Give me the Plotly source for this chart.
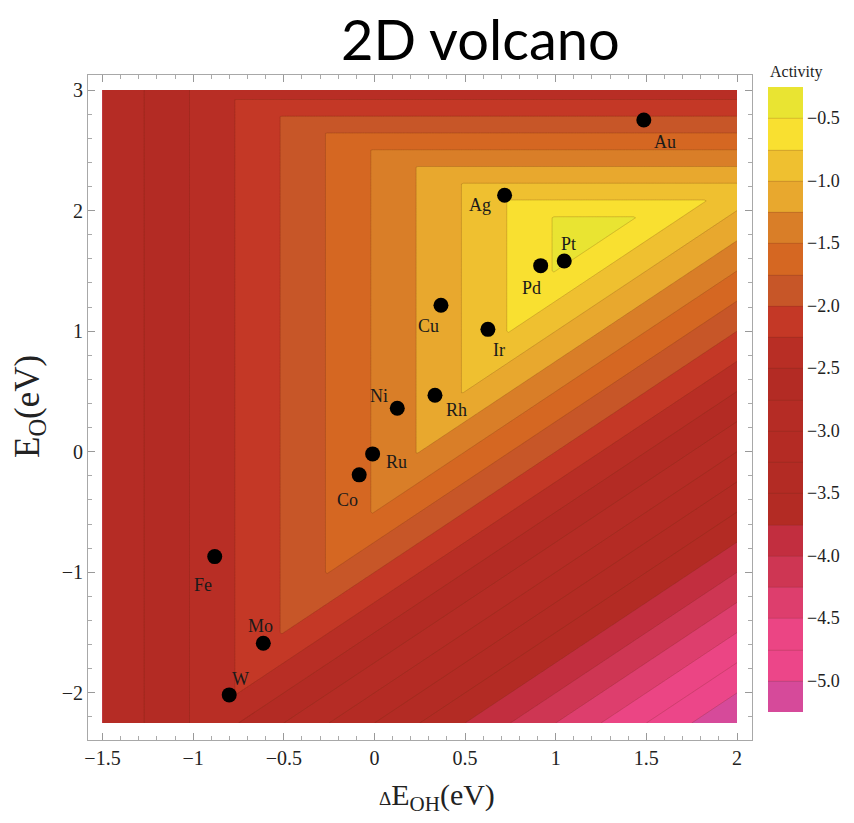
import numpy as np
import plotly.graph_objects as go

# Limiting linear terms of the activity model: A = min_i (a_i * dE_OH + b_i * E_O + c_i)
TERM_SLOPE_OH = [1.0, 0.0, -1.0]
TERM_SLOPE_O = [0.0, -1.8, 1.0]
TERM_OFFSET = [-1.48, 3.008, -1.0]

# Descriptor window
OH_RANGE = [-1.5, 2.0]
O_RANGE = [-2.25, 3.0]

# Contour levels and band colours (lowest band first)
LEVEL_START, LEVEL_END, LEVEL_STEP = -5.0, -0.5, 0.25
BAND_COLORS = [
    "#D64A9A", "#EC4689", "#EB4584", "#DD3E6D", "#CE3653",
    "#C22E3F", "#B32B24", "#B32B24", "#B42B24", "#B52C25",
    "#B32B24", "#B82E25", "#C43826", "#C75628", "#D56722",
    "#D97E28", "#E8A82E", "#EFC030", "#F9E030", "#E9E432",
]

# Metals: adsorption energies (eV)
METALS = ["Au", "Ag", "Pt", "Pd", "Cu", "Ir", "Ni", "Rh", "Ru", "Co", "Fe", "Mo", "W"]
E_OH = [1.486, 0.718, 1.047, 0.917, 0.367, 0.626, 0.126, 0.334, -0.010, -0.084, -0.881, -0.613, -0.801]
E_O = [2.751, 2.127, 1.582, 1.543, 1.215, 1.015, 0.361, 0.468, -0.018, -0.192, -0.870, -1.588, -2.017]

# Pixel offsets of each metal's label from its marker (dx right, dy down)
LABEL_OFFSETS = {
    "Au": (21, 22), "Ag": (-25, 10), "Pt": (4, -17), "Pd": (-9, 22),
    "Cu": (-12, 21), "Ir": (11, 21), "Ni": (-18, -12), "Rh": (22, 15),
    "Ru": (24, 8), "Co": (-12, 25), "Fe": (-12, 28), "Mo": (-3, -17),
    "W": (11, -16),
}

X_TICKS = [-1.5, -1.0, -0.5, 0.0, 0.5, 1.0, 1.5, 2.0]
X_TICKTEXT = ["\u22121.5", "\u22121", "\u22120.5", "0", "0.5", "1", "1.5", "2"]
Y_TICKS = [-2, -1, 0, 1, 2, 3]
Y_TICKTEXT = ["\u22122", "\u22121", "0", "1", "2", "3"]
CB_TICKS = [-5.0, -4.5, -4.0, -3.5, -3.0, -2.5, -2.0, -1.5, -1.0, -0.5]
CB_TICKTEXT = ["\u2212%.1f" % abs(v) for v in CB_TICKS]

SERIF = "Liberation Serif, Times New Roman, serif"

# Activity surface on a fine grid
xs = np.linspace(OH_RANGE[0], OH_RANGE[1], 351)
ys = np.linspace(O_RANGE[0], O_RANGE[1], 526)
X, Y = np.meshgrid(xs, ys)
terms = [a * X + b * Y + c for a, b, c in zip(TERM_SLOPE_OH, TERM_SLOPE_O, TERM_OFFSET)]
Z = np.minimum.reduce(terms)

# Stepwise colour scale: one flat colour per band
zmin = LEVEL_START - LEVEL_STEP
zmax = LEVEL_END + LEVEL_STEP
n = len(BAND_COLORS)
colorscale = []
for i, c in enumerate(BAND_COLORS):
    colorscale.append([i / n, c])
    colorscale.append([(i + 1) / n, c])

# Layout geometry (pixels)
W, H = 854, 823
ML, MR, MT, MB = 88, 102, 75, 83
PW, PH = W - ML - MR, H - MT - MB

fig = go.Figure()
fig.add_trace(go.Contour(
    x=xs, y=ys, z=Z,
    zmin=zmin, zmax=zmax, zauto=False,
    colorscale=colorscale,
    contours=dict(start=LEVEL_START, end=LEVEL_END, size=LEVEL_STEP, coloring="fill"),
    line=dict(width=0.6, color="rgba(90,45,20,0.35)", smoothing=0),
    colorbar=dict(
        x=(768 - ML) / PW, xanchor="left", xpad=0,
        y=(MT + PH - 399) / PH, yanchor="middle", ypad=0,
        len=625, lenmode="pixels", thickness=35,
        outlinewidth=0, ticks="",
        tickvals=CB_TICKS, ticktext=CB_TICKTEXT,
        tickfont=dict(family=SERIF, size=18, color="#222"),
    ),
    hoverinfo="skip",
))

fig.add_trace(go.Scatter(
    x=E_OH, y=E_O, mode="markers",
    marker=dict(size=15, color="black"),
    text=METALS, hoverinfo="text", showlegend=False,
))

annotations = []
for name, ex, eo in zip(METALS, E_OH, E_O):
    dx, dy = LABEL_OFFSETS[name]
    annotations.append(dict(
        x=ex, y=eo, xref="x", yref="y", text=name, showarrow=False,
        xshift=dx, yshift=-dy,
        font=dict(family=SERIF, size=18, color="#1a1a1a"),
    ))

# Title, axis titles and colour-bar caption
annotations.append(dict(
    x=(480 - ML) / PW, y=(MT + PH - 38) / PH, xref="paper", yref="paper",
    text="2D volcano", showarrow=False, xanchor="center", yanchor="middle",
    font=dict(family="Lato, Open Sans, sans-serif", size=56, color="black"),
))
annotations.append(dict(
    x=(437 - ML) / PW, y=(MT + PH - 797) / PH, xref="paper", yref="paper",
    text="<span style='font-size:19px'>\u0394</span>E<sub>OH</sub>(eV)",
    showarrow=False, xanchor="center", yanchor="middle",
    font=dict(family=SERIF, size=30, color="#222"),
))
annotations.append(dict(
    x=(30 - ML) / PW, y=(MT + PH - 407) / PH, xref="paper", yref="paper",
    text="E<sub>O</sub>(eV)", textangle=-90,
    showarrow=False, xanchor="center", yanchor="middle",
    font=dict(family=SERIF, size=35, color="#222"),
))
annotations.append(dict(
    x=(768 - ML) / PW, y=(MT + PH - 72) / PH, xref="paper", yref="paper",
    text="Activity", showarrow=False, xanchor="left", yanchor="middle",
    font=dict(family=SERIF, size=16, color="#222"),
))

x_px = 181.3
y_px = 120.6
x_lo = OH_RANGE[0] - (102.5 - ML) / x_px
x_hi = OH_RANGE[1] + (ML + PW - 737) / x_px
y_hi = O_RANGE[1] + (90 - MT) / y_px
y_lo = O_RANGE[0] - (MT + PH - 723) / y_px

axis_common = dict(
    showgrid=False, zeroline=False,
    showline=True, linecolor="#a8a8a8", linewidth=1, mirror="ticks",
    ticks="inside", ticklen=7, tickcolor="#999", tickwidth=1,
    tickfont=dict(family=SERIF, size=20, color="#222"),
)

fig.update_layout(
    width=W, height=H,
    margin=dict(l=ML, r=MR, t=MT, b=MB, pad=0),
    paper_bgcolor="white", plot_bgcolor="white",
    showlegend=False,
    annotations=annotations,
    xaxis=dict(range=[x_lo, x_hi], tickvals=X_TICKS, ticktext=X_TICKTEXT,
               minor=dict(dtick=0.1, tick0=0, ticks="inside", ticklen=4, tickcolor="#aaa"),
               **axis_common),
    yaxis=dict(range=[y_lo, y_hi], tickvals=Y_TICKS, ticktext=Y_TICKTEXT,
               minor=dict(dtick=0.2, tick0=0, ticks="inside", ticklen=4, tickcolor="#aaa"),
               **axis_common),
)

fig.write_html("out.html")
